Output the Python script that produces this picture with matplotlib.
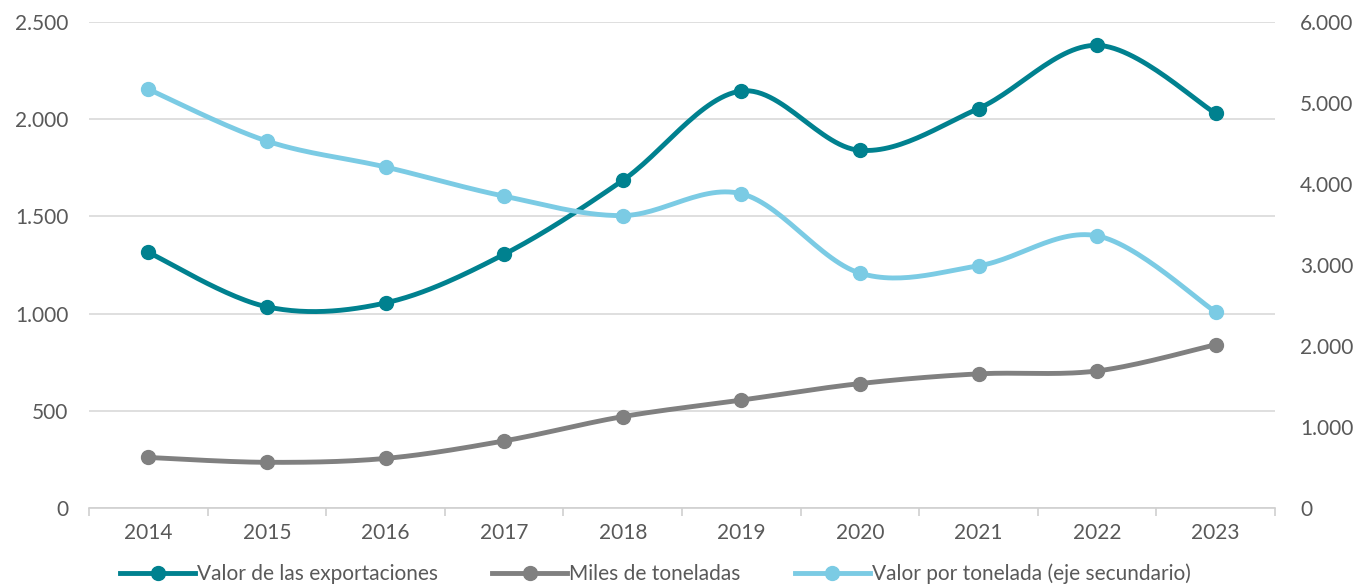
import numpy as np
import matplotlib
matplotlib.use("Agg")
import matplotlib.pyplot as plt
from matplotlib.ticker import FuncFormatter, FixedLocator

years = ["2014", "2015", "2016", "2017", "2018", "2019", "2020", "2021", "2022", "2023"]
valor_export = [1315, 1035, 1055, 1305, 1685, 2145, 1840, 2055, 2380, 2030]
miles_ton = [260, 235, 255, 345, 470, 555, 640, 690, 705, 840]
valor_ton = [5170, 4530, 4210, 3850, 3610, 3880, 2900, 2990, 3360, 2420]

c_export = "#00818F"
c_miles = "#808080"
c_valor = "#7BCBE4"

plt.rcParams["font.family"] = ["Lato", "DejaVu Sans"]


def smooth(x, y, n=30):
    # curva suavizada tipo Excel (Catmull-Rom con bezier)
    x = np.asarray(x, float)
    y = np.asarray(y, float)
    xs, ys = [x[0]], [y[0]]
    for i in range(len(x) - 1):
        p0 = np.array([x[i - 1], y[i - 1]]) if i > 0 else np.array([x[i], y[i]])
        p1 = np.array([x[i], y[i]])
        p2 = np.array([x[i + 1], y[i + 1]])
        p3 = np.array([x[i + 2], y[i + 2]]) if i + 2 < len(x) else p2
        c1 = p1 + (p2 - p0) / 6
        c2 = p2 - (p3 - p1) / 6
        t = np.linspace(0, 1, n)[1:, None]
        pts = ((1 - t) ** 3) * p1 + 3 * ((1 - t) ** 2) * t * c1 + 3 * (1 - t) * t ** 2 * c2 + t ** 3 * p2
        xs.extend(pts[:, 0])
        ys.extend(pts[:, 1])
    return np.array(xs), np.array(ys)


fmt = FuncFormatter(lambda v, p: f"{int(v):,}".replace(",", "."))

fig = plt.figure(figsize=(13.57, 5.88), dpi=100)
ax = fig.add_axes([89 / 1357, 80 / 588, (1275 - 89) / 1357, (508 - 22) / 588])
ax2 = ax.twinx()

x = np.arange(len(years))

for data, col, axis in [(miles_ton, c_miles, ax),
                        (valor_ton, c_valor, ax2),
                        (valor_export, c_export, ax)]:
    sx, sy = smooth(x, data)
    axis.plot(sx, sy, color=col, lw=3.5, solid_capstyle="round", zorder=3)
    axis.plot(x, data, "o", color=col, ms=10, zorder=4)

ax.set_xlim(-0.5, len(years) - 0.5)
ax.set_ylim(0, 2500)
ax2.set_ylim(0, 6000)
ax.set_yticks(np.arange(0, 2501, 500))
ax2.set_yticks(np.arange(0, 6001, 1000))
ax.yaxis.set_major_formatter(fmt)
ax2.yaxis.set_major_formatter(fmt)

ax.set_xticks(x)
ax.set_xticklabels(years)
ax.xaxis.set_minor_locator(FixedLocator(np.arange(-0.5, len(years), 1)))
ax.tick_params(axis="x", which="major", length=0, pad=11, labelsize=15, colors="#595959")
ax.tick_params(axis="x", which="minor", length=6, color="#D0D0D0", width=1.2)
ax.tick_params(axis="y", length=0, pad=15, labelsize=15, colors="#595959")
ax2.tick_params(axis="y", length=0, pad=18, labelsize=15, colors="#595959")

ax.grid(axis="y", color="#D9D9D9", lw=1.2)
ax.set_axisbelow(True)
for a in (ax, ax2):
    for s in a.spines.values():
        s.set_visible(False)
ax.spines["bottom"].set_visible(True)
ax.spines["bottom"].set_color("#D0D0D0")
ax.spines["bottom"].set_linewidth(1.2)

handles = [
    plt.Line2D([], [], color=c_export, lw=3.5, marker="o", ms=10),
    plt.Line2D([], [], color=c_miles, lw=3.5, marker="o", ms=10),
    plt.Line2D([], [], color=c_valor, lw=3.5, marker="o", ms=10),
]
labels = ["Valor de las exportaciones", "Miles de toneladas", "Valor por tonelada (eje secundario)"]
fig.legend(handles, labels, loc="lower center", bbox_to_anchor=(0.483, -0.025), ncol=3,
           frameon=False, fontsize=15, handlelength=3.6, handletextpad=0.1, columnspacing=2.6,
           labelcolor="#595959")

fig.savefig("out.png", dpi=100)
